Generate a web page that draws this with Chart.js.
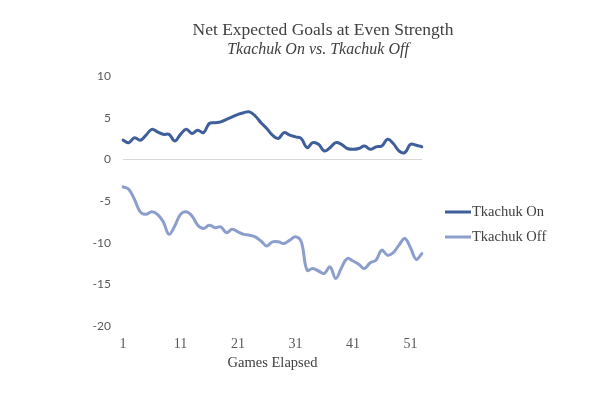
<!DOCTYPE html>
<html>
<head>
<meta charset="utf-8">
<script src="https://cdn.jsdelivr.net/npm/chart.js@4.4.1/dist/chart.umd.min.js"></script>
<style>
  html, body { margin: 0; padding: 0; background: #fff; }
  #wrap { width: 594px; height: 397px; }
</style>
</head>
<body>
<div id="wrap"><canvas id="xgChart" width="594" height="397"></canvas></div>
<script>
const games = Array.from({ length: 53 }, (_, i) => String(i + 1));

const tkachukOn = [
  2.3, 2.0, 2.6, 2.3, 2.9, 3.6, 3.3, 3.0, 3.0, 2.2,
  3.0, 3.6, 3.1, 3.5, 3.2, 4.3, 4.4, 4.5, 4.8, 5.1,
  5.4, 5.6, 5.7, 5.2, 4.4, 3.7, 2.9, 2.5, 3.2, 2.9,
  2.7, 2.5, 1.4, 2.0, 1.8, 1.0, 1.4, 2.0, 1.8, 1.3,
  1.2, 1.3, 1.6, 1.2, 1.5, 1.6, 2.4, 1.9, 1.0, 0.8,
  1.8, 1.7, 1.5
];

const tkachukOff = [
  -3.3, -3.6, -4.8, -6.3, -6.6, -6.3, -6.6, -7.5, -9.0, -8.0,
  -6.6, -6.3, -6.8, -7.9, -8.3, -7.9, -8.2, -8.1, -8.8, -8.4,
  -8.7, -9.0, -9.1, -9.3, -9.8, -10.4, -9.9, -9.9, -10.1, -9.7,
  -9.3, -9.9, -13.3, -13.1, -13.4, -13.7, -12.9, -14.3, -13.0, -11.9,
  -12.2, -12.6, -13.1, -12.4, -12.1, -10.9, -11.5, -11.2, -10.3, -9.5,
  -10.6, -12.0, -11.3
];

const seriesNames = ["Tkachuk On", "Tkachuk Off"];
const seriesColors = ["#3f5f9a", "#8c9ecb"];
const titleText = "Net Expected Goals at Even Strength";
const subtitleText = "Tkachuk On vs. Tkachuk Off";

const serif = "'Palatino Linotype', 'Book Antiqua', Palatino, 'Liberation Serif', serif";

// title, subtitle and legend sit off-centre in the original, so draw them by hand
const annotations = {
  id: "annotations",
  afterDraw(chart) {
    const ctx = chart.ctx;
    ctx.save();
    ctx.fillStyle = "#404040";
    ctx.textAlign = "center";
    ctx.textBaseline = "middle";
    ctx.font = "17.5px " + serif;
    ctx.fillText(titleText, 323, 30);
    ctx.font = "italic 16px " + serif;
    ctx.fillText(subtitleText, 318, 50);

    ctx.textAlign = "left";
    ctx.font = "14.5px " + serif;
    const rows = [212, 237];
    rows.forEach((y, i) => {
      ctx.strokeStyle = seriesColors[i];
      ctx.lineWidth = 3;
      ctx.beginPath();
      ctx.moveTo(445, y);
      ctx.lineTo(471, y);
      ctx.stroke();
      ctx.fillStyle = "#404040";
      ctx.fillText(seriesNames[i], 472, y);
    });
    ctx.restore();
  }
};

new Chart(document.getElementById("xgChart"), {
  type: "line",
  data: {
    labels: games,
    datasets: [
      { label: seriesNames[0], data: tkachukOn, borderColor: seriesColors[0], borderWidth: 3 },
      { label: seriesNames[1], data: tkachukOff, borderColor: seriesColors[1], borderWidth: 3 }
    ]
  },
  options: {
    responsive: false,
    animation: false,
    layout: { padding: { left: 0, right: 172, top: 76, bottom: 21 } },
    elements: {
      point: { radius: 0 },
      line: { tension: 0.4, borderCapStyle: "round", borderJoinStyle: "round" }
    },
    plugins: {
      legend: { display: false },
      tooltip: { enabled: false }
    },
    scales: {
      x: {
        offset: false,
        grid: { display: false, drawTicks: false },
        border: { display: false },
        ticks: {
          autoSkip: false,
          maxRotation: 0,
          padding: 10,
          color: "#595959",
          font: { family: serif, size: 14 },
          callback: (v, i) => (i % 10 === 0 ? games[i] : "")
        },
        title: {
          display: true,
          text: "Games Elapsed",
          color: "#404040",
          font: { family: serif, size: 14.5 },
          padding: { top: 0, bottom: 4 }
        },
        afterFit: (scale) => { scale.height = 50; }
      },
      y: {
        min: -20,
        max: 10,
        grid: {
          drawTicks: false,
          color: (c) => (c.tick && c.tick.value === 0 ? "#d9d9d9" : "rgba(0,0,0,0)")
        },
        border: { display: false },
        ticks: {
          stepSize: 5,
          padding: 12,
          color: "#595959",
          font: { family: "Lato, 'Open Sans', sans-serif", size: 12 }
        },
        afterFit: (scale) => { scale.width = 123; }
      }
    }
  },
  plugins: [annotations]
});
</script>
</body>
</html>
